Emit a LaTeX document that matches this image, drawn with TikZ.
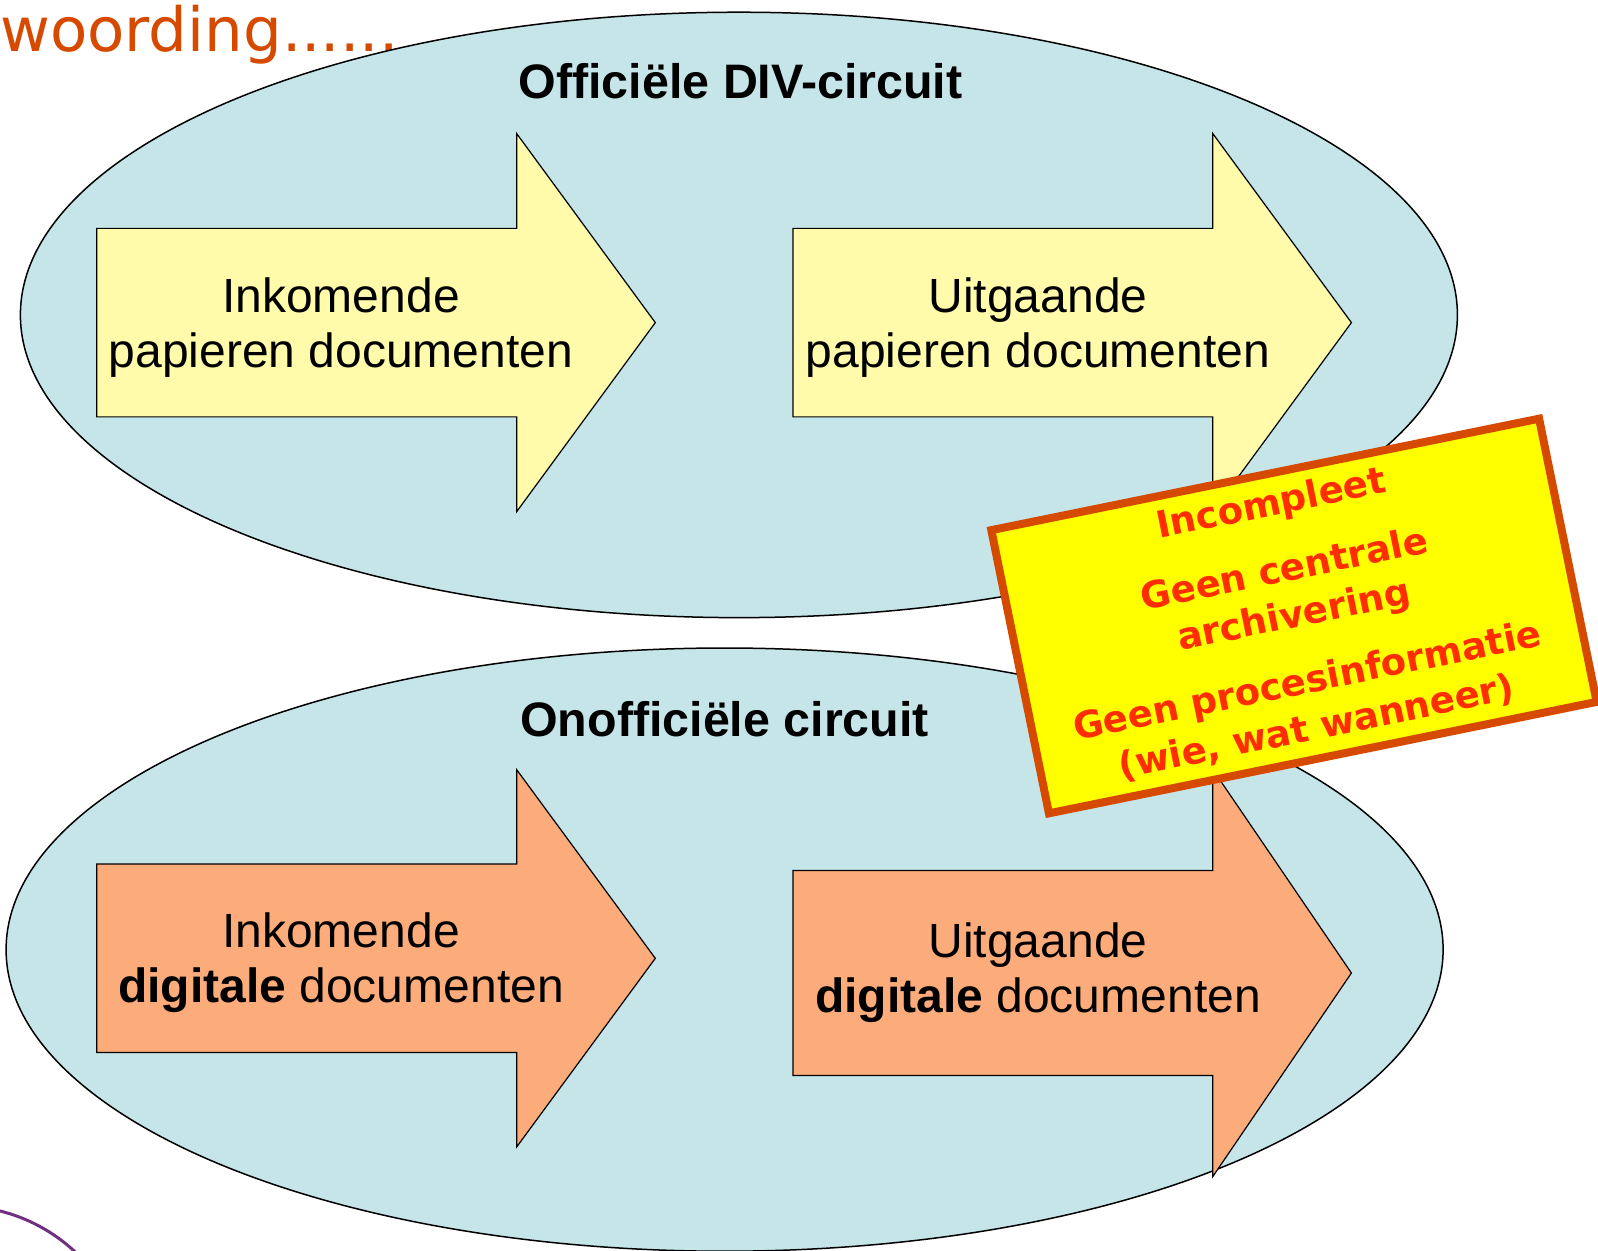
\documentclass[tikz,border=0pt]{standalone}
\usepackage{fontspec}
\setmainfont{Liberation Sans}
\newfontfamily\notefont{DejaVu Sans}
\usetikzlibrary{shapes.geometric}
\definecolor{circuitblue}{RGB}{197,229,233}
\definecolor{paperfill}{RGB}{255,251,171}
\definecolor{digitalfill}{RGB}{252,171,123}
\definecolor{noteorange}{RGB}{214,74,0}
\definecolor{notered}{RGB}{255,45,0}
\definecolor{notefill}{RGB}{255,255,0}
\definecolor{arcpurple}{RGB}{112,48,128}
\tikzset{
  circuit/.style={ellipse, draw=black, line width=0.75pt, fill=circuitblue, inner sep=0pt, minimum width=718.5pt},
  docarrow/.style={draw=black, line width=0.6pt, line join=miter},
  doclabel/.style={align=center, inner sep=0pt, font=\fontsize{24}{27.5}\selectfont},
  circuittitle/.style={anchor=base, inner sep=0pt, font=\bfseries\fontsize{24.2}{28}\selectfont},
  notebox/.style={draw=noteorange, line width=4pt, fill=notefill, minimum width=279.5pt, minimum height=144.5pt,
    align=center, inner sep=0pt, text=notered, font=\notefont\bfseries\fontsize{18.5}{23.5}\selectfont}
}
\begin{document}
\begin{tikzpicture}[x=0.5pt,y=-0.5pt]
  \useasboundingbox (0,0) rectangle (1598,1250);
  \clip (0,0) rectangle (1598,1250);

  \node[anchor=base west, inner sep=0pt, text=noteorange, font=\notefont\fontsize{30.5}{36}\selectfont] (heading) at (0,51.7) {woording......};

  % the two circuits
  \node[circuit, minimum height=302.7pt] (official) at (738.9,314.9) {};
  \node[circuit, minimum height=301.6pt] (unofficial) at (724.6,949.6) {};

  % document arrows: left x / centre y / half shaft / half head / colour
  \foreach \x/\y/\s/\h/\c in {96.8/322.6/94.25/189/paperfill, 792.9/322.6/94.25/189/paperfill,
                             96.8/958.3/94.25/188.6/digitalfill, 792.9/973/102.5/203.5/digitalfill}{
    \draw[docarrow, fill=\c] (\x,\y-\s) -- (\x+419.9,\y-\s) -- (\x+419.9,\y-\h) -- (\x+558.5,\y)
      -- (\x+419.9,\y+\h) -- (\x+419.9,\y+\s) -- (\x,\y+\s) -- cycle;
  }

  \node[circuittitle] (officialtitle) at (740.5,98.3) {Officiële DIV-circuit};
  \node[circuittitle] (unofficialtitle) at (724.6,736.8) {Onofficiële circuit};

  \node[doclabel] (inpaper) at (341,327.5) {Inkomende\\papieren documenten};
  \node[doclabel] (outpaper) at (1038,327.5) {Uitgaande\\papieren documenten};
  \node[doclabel] (indigital) at (341,963) {Inkomende\\\textbf{digitale} documenten};
  \node[doclabel] (outdigital) at (1038,972.5) {Uitgaande\\\textbf{digitale} documenten};

  % remark on top
  \node[notebox, rotate=11.5] (note) at (1294,616) {Incompleet\\[10pt]Geen centrale\\archivering\\[10pt]Geen procesinformatie\\(wie, wat wanneer)};

  \draw[arcpurple, line width=1.5pt] (-41,1376) circle (170);
\end{tikzpicture}
\end{document}
